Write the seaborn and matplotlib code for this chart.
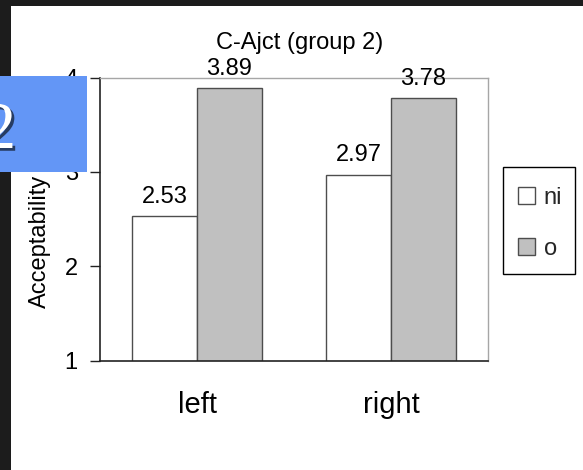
import matplotlib
matplotlib.use("Agg")
import matplotlib.pyplot as plt
import matplotlib.patheffects as pe
from matplotlib.patches import Rectangle
import pandas as pd
import seaborn as sns

# Chart content
title = "C-Ajct (group 2)"
y_label = "Acceptability"
positions = ["left", "right"]
forms = ["ni", "o"]
ni_scores = [2.53, 2.97]
o_scores = [3.89, 3.78]
y_ticks = [1, 2, 3, 4]
slide_number = "2"

df = pd.DataFrame({
    "position": positions * 2,
    "form": [forms[0]] * len(positions) + [forms[1]] * len(positions),
    "score": ni_scores + o_scores,
})

W, H = 583, 470
FS = 17
sns.set_theme(style="white")
plt.rcParams["font.family"] = ["Liberation Sans", "DejaVu Sans"]

fig = plt.figure(figsize=(W / 100, H / 100), dpi=100)
fig.patch.set_facecolor("white")
ax = fig.add_axes([100 / W, 1 - 360.5 / H, 388 / W, 283 / H])

sns.barplot(
    data=df, x="position", y="score", hue="form",
    order=positions, hue_order=forms,
    palette={"ni": "white", "o": "#c0c0c0"},
    width=0.67, edgecolor="#4d4d4d", linewidth=1.0, saturation=1,
    ax=ax,
)

ax.set_ylim(1, 4)
ax.set_xlim(-0.5, 1.5)
ax.set_yticks(y_ticks)
ax.set_xlabel("")
ax.set_ylabel("")
ax.set_xticks([-0.5, 0.5, 1.5], minor=True)
ax.tick_params(axis="x", which="major", length=0, pad=22, labelsize=21, colors="black")
ax.tick_params(axis="x", which="minor", length=7, width=1, direction="out", color="#222222")
ax.tick_params(axis="y", which="major", length=7, width=1, direction="out", pad=9,
               labelsize=FS, color="#222222", left=True)
for t in ax.get_yticklabels():
    t.set_color("black")

for side in ("left", "bottom"):
    ax.spines[side].set_color("#222222")
    ax.spines[side].set_linewidth(1.2)
for side in ("top", "right"):
    ax.spines[side].set_color("#a6a6a6")
    ax.spines[side].set_linewidth(1.0)

for c in ax.containers:
    ax.bar_label(c, fmt="%.2f", padding=6, fontsize=FS, color="black")

# Legend entries without their own frame; the box is drawn separately
handles, labels = ax.get_legend_handles_labels()
leg = ax.legend(
    handles, labels, loc="upper left",
    bbox_to_anchor=(503 / W, 1 - 172 / H), bbox_transform=fig.transFigure,
    frameon=False, handlelength=0.72, handleheight=0.72, handletextpad=0.38,
    labelspacing=1.25, borderpad=0.62, fontsize=FS, borderaxespad=0,
)
for h in leg.legend_handles:
    h.set_edgecolor("#4d4d4d")
fig.add_artist(Rectangle((503 / W, 1 - 274 / H), 72 / W, 107 / H, transform=fig.transFigure,
                         facecolor="none", edgecolor="black", linewidth=1.0, zorder=4))

fig.text(300 / W, 1 - 49 / H, title, ha="center", va="baseline", fontsize=FS, color="black")
fig.text(40 / W, 1 - 241 / H, y_label, ha="center", va="center", rotation=90,
         fontsize=FS, color="black")

# Slide frame and number badge
fig.add_artist(Rectangle((0, 0), 11 / W, 1, transform=fig.transFigure,
                         facecolor="#1c1c1c", edgecolor="none", zorder=5))
fig.add_artist(Rectangle((0, 1 - 6 / H), 1, 6 / H, transform=fig.transFigure,
                         facecolor="#1c1c1c", edgecolor="none", zorder=5))
fig.add_artist(Rectangle((0, 1 - 172 / H), 87 / W, 96 / H, transform=fig.transFigure,
                         facecolor="#6396F6", edgecolor="none", zorder=10))
fig.text(16 / W, 1 - 148 / H, slide_number, ha="right", va="baseline",
         fontsize=48, color="white", family=["Liberation Serif"], zorder=11,
         path_effects=[pe.withSimplePatchShadow(offset=(2, -2), shadow_rgbFace="black", alpha=0.6)])

fig.savefig("out.png", dpi=100)
